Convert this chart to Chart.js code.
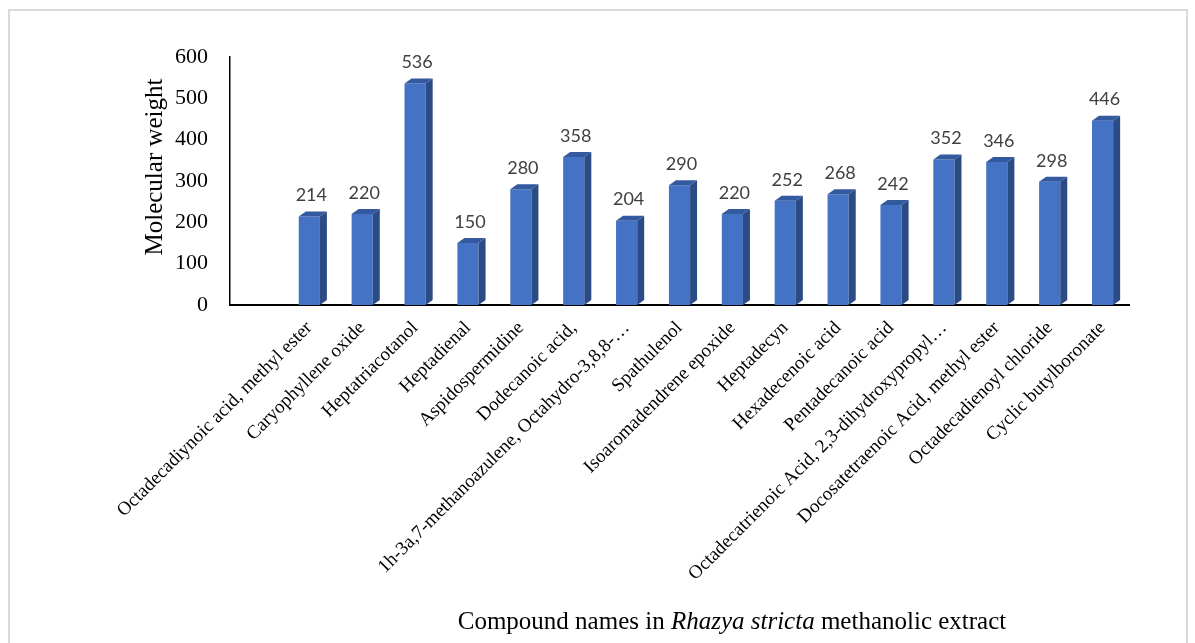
<!DOCTYPE html>
<html>
<head>
<meta charset="utf-8">
<script src="https://cdn.jsdelivr.net/npm/chart.js@4/dist/chart.umd.min.js"></script>
<style>
  html, body { margin: 0; padding: 0; background: #ffffff; }
  #wrap { position: relative; width: 1195px; height: 643px; overflow: hidden; }
  #frame { position: absolute; left: 8px; top: 9px; width: 1180px; height: 720px;
           border: 2px solid #dadada; box-sizing: border-box; }
  #chart { position: absolute; left: 0; top: 0; }
  #xtitle { position: absolute; left: 332px; width: 800px; top: 607px; text-align: center;
            font-family: "Liberation Serif", "Times New Roman", serif; font-size: 25px;
            line-height: 28px; color: #000; white-space: nowrap; }
  #ytitle { position: absolute; left: 4px; top: 153px; width: 300px; height: 28px; line-height: 28px;
            text-align: center; transform: rotate(-90deg); transform-origin: 150px 14px;
            font-family: "Liberation Serif", "Times New Roman", serif; font-size: 25px;
            color: #000; white-space: nowrap; }
</style>
</head>
<body>
<div id="wrap">
  <div id="frame"></div>
  <canvas id="chart" width="1195" height="643"></canvas>
  <div id="ytitle"></div>
  <div id="xtitle">Compound names in <i>Rhazya stricta</i> methanolic extract</div>
</div>
<script>
// ---- data ----
const compoundNames = [
  "Octadecadiynoic acid, methyl ester",
  "Caryophyllene oxide",
  "Heptatriacotanol",
  "Heptadienal",
  "Aspidospermidine",
  "Dodecanoic acid,",
  "1h-3a,7-methanoazulene, Octahydro-3,8,8-…",
  "Spathulenol",
  "Isoaromadendrene epoxide",
  "Heptadecyn",
  "Hexadecenoic acid",
  "Pentadecanoic acid",
  "Octadecatrienoic Acid, 2,3-dihydroxypropyl…",
  "Docosatetraenoic Acid, methyl ester",
  "Octadecadienoyl chloride",
  "Cyclic butylboronate"
];
const molecularWeights = [214, 220, 536, 150, 280, 358, 204, 290, 220, 252, 268, 242, 352, 346, 298, 446];
const yTickValues = [0, 100, 200, 300, 400, 500, 600];
const yAxisTitle = "Molecular weight";

document.getElementById("ytitle").textContent = yAxisTitle;

// leading empty slot reproduces the gap at the left of the plot
const labels = [""].concat(compoundNames);
const values = [null].concat(molecularWeights);

const FRONT = "#4472c4", SIDE = "#2a4b84", TOP = "#33599e";

const bar3d = {
  id: "bar3d",
  afterDatasetsDraw(chart) {
    const ctx = chart.ctx;
    const meta = chart.getDatasetMeta(0);
    meta.data.forEach((bar, i) => {
      if (values[i] == null) return;
      const p = bar.getProps(["x", "y", "base", "width"], true);
      const l = p.x - p.width / 2, r = p.x + p.width / 2;
      const dx = 7, dy = 5;
      ctx.save();
      ctx.fillStyle = SIDE;
      ctx.beginPath();
      ctx.moveTo(r, p.y); ctx.lineTo(r + dx, p.y - dy);
      ctx.lineTo(r + dx, p.base - dy); ctx.lineTo(r, p.base);
      ctx.closePath(); ctx.fill();
      ctx.fillStyle = TOP;
      ctx.beginPath();
      ctx.moveTo(l, p.y); ctx.lineTo(l + dx, p.y - dy);
      ctx.lineTo(r + dx, p.y - dy); ctx.lineTo(r, p.y);
      ctx.closePath(); ctx.fill();
      ctx.fillStyle = "#404040";
      ctx.font = "18px Lato, 'Open Sans', sans-serif";
      ctx.textAlign = "center";
      ctx.textBaseline = "middle";
      ctx.fillText(String(values[i]), p.x + 2, p.y - 21);
      ctx.restore();
    });
  }
};

new Chart(document.getElementById("chart"), {
  type: "bar",
  data: {
    labels: labels,
    datasets: [{
      data: values,
      backgroundColor: FRONT,
      borderWidth: 0,
      barPercentage: 0.4,
      categoryPercentage: 1.0
    }]
  },
  options: {
    responsive: false,
    animation: false,
    events: [],
    layout: { padding: { left: 140, right: 66, top: 57, bottom: 0 } },
    plugins: { legend: { display: false }, tooltip: { enabled: false }, title: { display: false } },
    scales: {
      x: {
        grid: { display: false, drawTicks: false, tickLength: 0 },
        border: { display: true, color: "#000000", width: 2 },
        ticks: {
          autoSkip: false, minRotation: 45, maxRotation: 45, padding: 12,
          color: "#000000",
          font: { family: "'Liberation Serif', 'Times New Roman', serif", size: 19 }
        },
        afterFit(scale) { scale.height = 338; }
      },
      y: {
        min: 0, max: 600,
        afterBuildTicks(scale) { scale.ticks = yTickValues.map(v => ({ value: v })); },
        grid: { display: false, drawTicks: false, tickLength: 0 },
        border: { display: true, color: "#000000", width: 1.5 },
        ticks: {
          padding: 22,
          color: "#000000",
          font: { family: "'Liberation Serif', 'Times New Roman', serif", size: 22 }
        },
        title: { display: false },
        afterFit(scale) { scale.width = 90; }
      }
    }
  },
  plugins: [bar3d]
});
</script>
</body>
</html>
